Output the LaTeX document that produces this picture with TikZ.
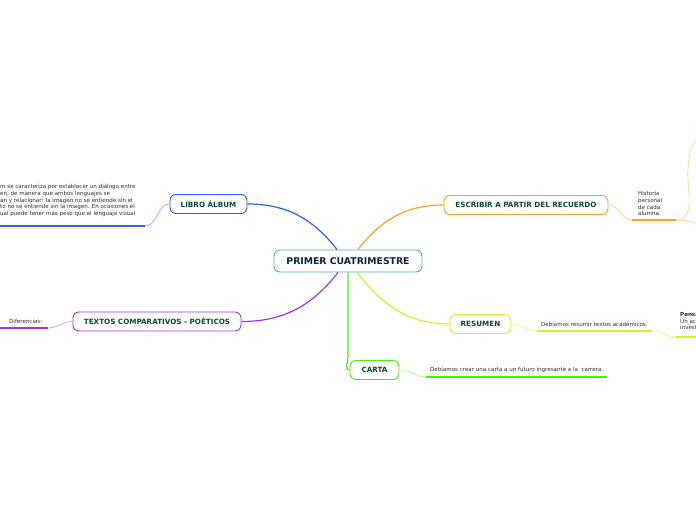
\documentclass[tikz,border=0pt]{standalone}
\usepackage{fontspec}
\setmainfont{DejaVu Sans}
\usetikzlibrary{positioning,calc}
\definecolor{rootblue}{RGB}{95,165,220}
\definecolor{libroblue}{RGB}{40,100,240}
\definecolor{escribirorange}{RGB}{250,165,30}
\definecolor{resumenlime}{RGB}{215,240,45}
\definecolor{cartagreen}{RGB}{80,235,20}
\definecolor{textospurple}{RGB}{165,50,240}
\definecolor{labelgreen}{RGB}{12,74,58}
\definecolor{labelnavy}{RGB}{12,32,72}
\definecolor{notegray}{RGB}{45,45,45}
\newcommand{\rootfont}{\fontsize{9.3}{11}\selectfont\bfseries}
\newcommand{\topicfont}{\fontsize{7.2}{9}\selectfont\bfseries}
\newcommand{\notefont}{\fontsize{5.55}{6.7}\selectfont}
\tikzset{
  topicbox/.style={
    draw,rounded corners=6pt,line width=0.9pt,fill=white,align=center,
    minimum height=19pt,inner sep=0pt,font=\topicfont,text=labelgreen
  },
  rootbox/.style={topicbox,draw=rootblue,minimum width=148pt,
    minimum height=22pt,font=\rootfont,text=labelnavy},
  branchline/.style={line width=1.2pt},
  twigline/.style={line width=0.7pt},
  leafline/.style={line width=1.6pt},
  notetext/.style={font=\notefont,text=notegray,align=left,inner sep=0pt}
}

\begin{document}
\begin{tikzpicture}[x=1pt,y=1pt]
  \useasboundingbox (0,0) rectangle (696,520);
  \clip (0,0) rectangle (696,520);
  % central topic and its branches
  \node[rootbox] (root) at (348,259) {PRIMER CUATRIMESTRE};
  \node[topicbox,draw=libroblue,minimum width=77pt] (libro) at (208.5,316) {LIBRO ÁLBUM};
  \node[topicbox,draw=escribirorange,minimum width=164pt] (escribir) at (526,315) {ESCRIBIR A PARTIR DEL RECUERDO};
  \node[topicbox,draw=resumenlime,minimum width=61pt] (resumen) at (480.5,196) {RESUMEN};
  \node[topicbox,draw=cartagreen,minimum width=49pt] (carta) at (374.5,150) {CARTA};
  \node[topicbox,draw=textospurple,minimum width=168pt] (textos) at (157,198.5) {TEXTOS COMPARATIVOS - POÉTICOS};
  \draw[branchline,libroblue] ($(root.north)+(-11,0)$) to[out=128,in=0] (libro.east);
  \draw[branchline,escribirorange] ($(root.north)+(10,0)$) to[out=52,in=180] (escribir.west);
  \draw[branchline,resumenlime] ($(root.south)+(9,0)$) to[out=-52,in=180] (resumen.west);
  \draw[branchline,textospurple] ($(root.south)+(-10,0)$) to[out=-128,in=0] (textos.east);
  \draw[branchline,cartagreen] (root.south) -- ++(0,-84) to[out=-90,in=180] (carta.west);
  % LIBRO ALBUM note
  \coordinate (libroA) at (145,294);
  \coordinate (libroB) at (0,294);
  \draw[twigline,libroblue!50] (libro.west) to[out=180,in=0] (libroA);
  \draw[leafline,libroblue] (libroA) -- (libroB);
  \node[notetext,anchor=south west] (libronote) at (0,303)
    {m se caracteriza por establecer un diálogo entre\\en, de manera que ambos lenguajes se\\an y relacionar: la imagen no se entiende sin el\\to no se entiende sin la imagen. En ocasiones el\\ual puede tener más peso que el lenguaje visual};
  % ESCRIBIR note
  \coordinate (escribirA) at (632,300);
  \coordinate (escribirB) at (676,300);
  \draw[twigline,escribirorange!50] (escribir.east) to[out=0,in=180] (escribirA);
  \draw[leafline,escribirorange] (escribirA) -- (escribirB);
  \node[notetext,anchor=south west] (escribirnote) at (638,304)
    {Historia\\personal\\de cada\\alumna.};
  \coordinate (escribirUp) at (704,382);
  \coordinate (escribirRight) at (704,297);
  \draw[twigline,escribirorange!45] (escribirB) to[out=0,in=-95] (688,352) to[out=85,in=180] (escribirUp);
  \draw[twigline,escribirorange!45] (escribirB) to[out=0,in=180] (escribirRight);
  % RESUMEN notes
  \coordinate (resumenA) at (537,189);
  \coordinate (resumenB) at (652,189);
  \coordinate (resumenC) at (676,183);
  \coordinate (resumenD) at (700,183);
  \draw[twigline,resumenlime!55] (resumen.east) to[out=0,in=180] (resumenA);
  \draw[leafline,resumenlime] (resumenA) -- (resumenB);
  \node[notetext,anchor=south west] (resumennote) at (541,193)
    {Debíamos resumir textos académicos.};
  \draw[twigline,resumenlime!55] (resumenB) to[out=0,in=180] (resumenC);
  \draw[leafline,resumenlime] (resumenC) -- (resumenD);
  \node[notetext,anchor=south west] (pensanote) at (680,190)
    {\textbf{Pensa}\\Un ac\\invest};
  % CARTA note
  \coordinate (cartaA) at (426,143);
  \coordinate (cartaB) at (607,143);
  \draw[twigline,cartagreen!45] (carta.east) to[out=0,in=180] (cartaA);
  \draw[leafline,cartagreen] (cartaA) -- (cartaB);
  \node[notetext,anchor=south west] (cartanote) at (430,147)
    {Debíamos crear una carta a un futuro ingresante a la\ \ carrera.};
  % TEXTOS note
  \coordinate (textosA) at (48,192);
  \coordinate (textosB) at (0,192);
  \draw[twigline,textospurple!50] (textos.west) to[out=180,in=0] (textosA);
  \draw[leafline,textospurple] (textosA) -- (textosB);
  \node[notetext,anchor=south west] (textosnote) at (9,196) {Diferencias:};
\end{tikzpicture}
\end{document}
